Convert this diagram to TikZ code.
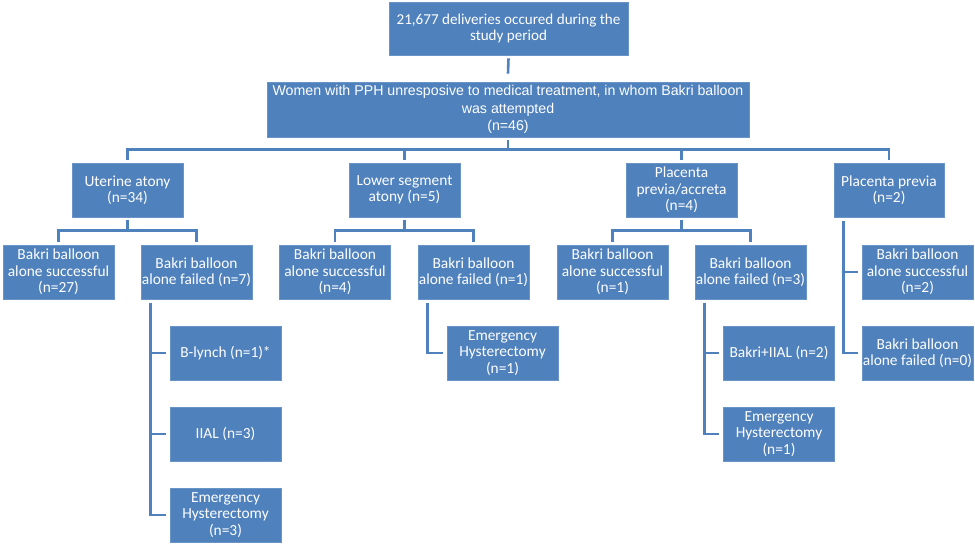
\documentclass[tikz,border=0pt]{standalone}
\usepackage{fontspec}
\setmainfont{Carlito}
\newfontfamily\arialfont{Liberation Sans}
\usetikzlibrary{calc}
\definecolor{boxblue}{HTML}{4F81BD}
\tikzstyle{box}=[rectangle,draw=boxblue!85!white,fill=boxblue,line width=0.8pt,text=white,align=center,inner sep=0pt,minimum width=111pt,minimum height=54pt,font=\fontsize{15.4}{16.4}\selectfont]
\tikzstyle{link}=[draw=boxblue,line width=2.6pt]

\begin{document}
\begin{tikzpicture}[x=1pt,y=-1pt]
	\useasboundingbox (0,0) rectangle (975,545);
	\def \rowa {190};
	\def \rowb {272};
	\def \rowc {353};
	\def \rowd {434};
	\def \rowe {515};

	% top of the tree
	\node[box,minimum width=239pt,minimum height=53pt,font=\fontsize{15.1}{16.2}\selectfont] (deliv) at (508.5,28.5) {21,677 deliveries occured during the\\study period};
	\node[box,minimum width=482pt,minimum height=55pt,font=\arialfont\fontsize{14.2}{17.4}\selectfont] (women) at (508,109.5) {Women with PPH unresposive to medical treatment, in whom Bakri balloon\\was attempted\\(n=46)};

	% causes
	\node[box] (atony) at (127.5,\rowa) {Uterine atony\\(n=34)};
	\node[box] (lower) at (404.5,\rowa) {Lower segment\\atony (n=5)};
	\node[box] (accreta) at (681.5,\rowa) {Placenta\\previa/accreta\\(n=4)};
	\node[box,minimum width=110pt] (previa) at (889,\rowa) {Placenta previa\\(n=2)};

	% balloon outcome
	\node[box] (atonyok) at (58.5,\rowb) {Bakri balloon\\alone successful\\(n=27)};
	\node[box] (atonyfail) at (196.5,\rowb) {Bakri balloon\\alone failed (n=7)};
	\node[box] (lowerok) at (335,\rowb) {Bakri balloon\\alone successful\\(n=4)};
	\node[box] (lowerfail) at (473.5,\rowb) {Bakri balloon\\alone failed (n=1)};
	\node[box] (accretaok) at (612.5,\rowb) {Bakri balloon\\alone successful\\(n=1)};
	\node[box] (accretafail) at (750.5,\rowb) {Bakri balloon\\alone failed (n=3)};
	\node[box] (previaok) at (917.5,\rowb) {Bakri balloon\\alone successful\\(n=2)};
	\node[box] (previafail) at (917.5,\rowc) {Bakri balloon\\alone failed (n=0)};

	% further treatment
	\node[box] (blynch) at (225.5,\rowc) {B-lynch (n=1)*};
	\node[box] (iial) at (225.5,\rowd) {IIAL (n=3)};
	\node[box] (atonyhyst) at (225.5,\rowe) {Emergency\\Hysterectomy\\(n=3)};
	\node[box] (lowerhyst) at (502.5,\rowc) {Emergency\\Hysterectomy\\(n=1)};
	\node[box] (bakriiial) at (779,\rowc) {Bakri+IIAL (n=2)};
	\node[box] (accretahyst) at (779,\rowd) {Emergency\\Hysterectomy\\(n=1)};

	% connectors
	\draw[link] ([yshift=-3pt]deliv.south) -- ([yshift=8pt]women.north);
	\foreach \c in {atony,lower,accreta,previa} {
		\draw[link] ([yshift=-3pt]women.south) |- ([yshift=13pt]\c.north) -- ([yshift=3pt]\c.north);
	};
	\foreach \p/\c in {atony/atonyok,atony/atonyfail,lower/lowerok,lower/lowerfail,accreta/accretaok,accreta/accretafail} {
		\draw[link] ([yshift=-3pt]\p.south) |- ([yshift=14pt]\c.north) -- ([yshift=3pt]\c.north);
	};
	\foreach \p/\c in {previa/previaok,previa/previafail,atonyfail/blynch,atonyfail/iial,atonyfail/atonyhyst,lowerfail/lowerhyst,accretafail/bakriiial,accretafail/accretahyst} {
		\draw[link] ([xshift=10pt,yshift=-4pt]\p.south west) |- ([xshift=-4pt]\c.west);
	};
\end{tikzpicture}
\end{document}
